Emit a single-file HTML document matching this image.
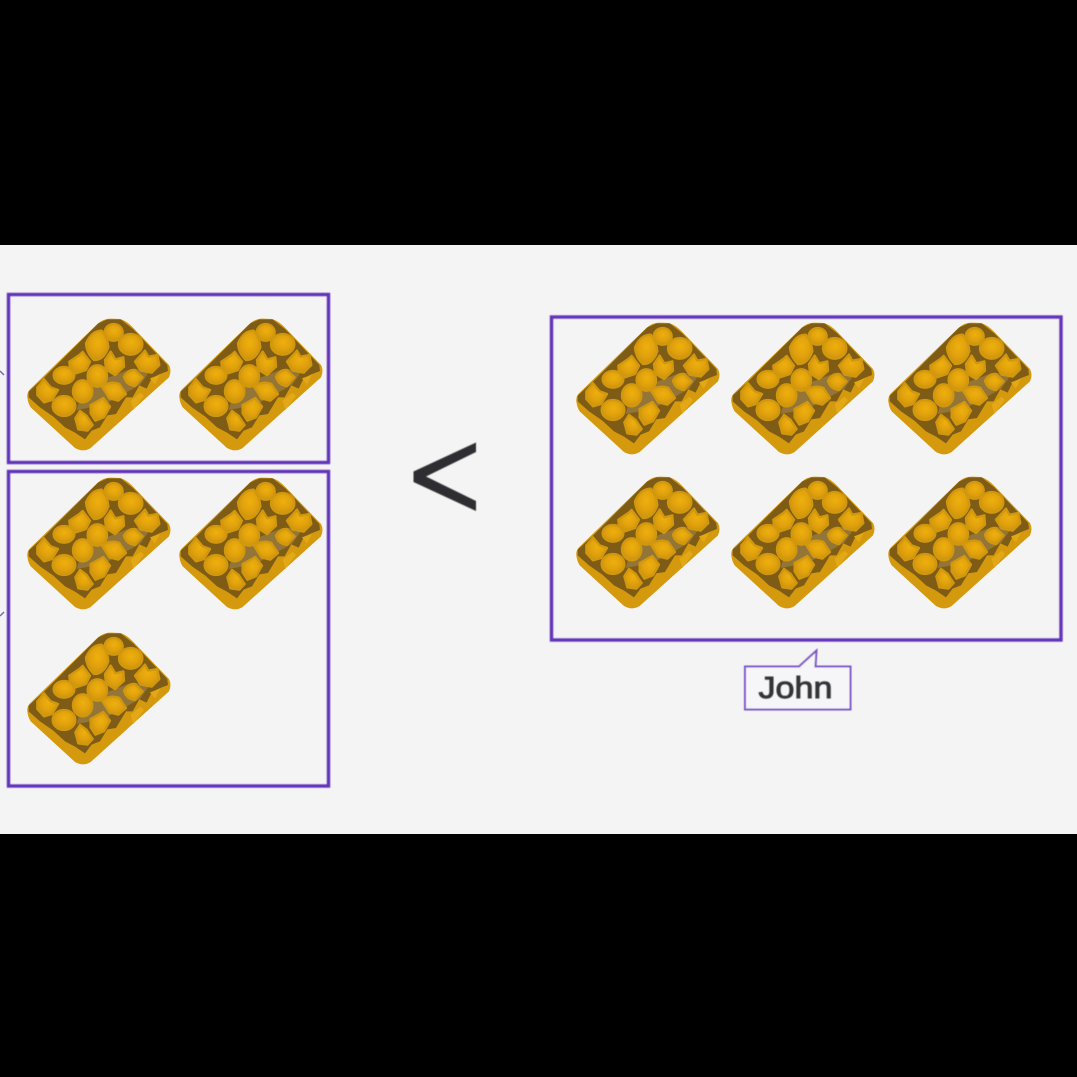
<!DOCTYPE html>
<html lang="en">
<head>
<meta charset="utf-8">
<title>Comparison of waffle groups</title>
<style>
html,body{margin:0;padding:0;background:#000;}
svg{display:block;}
</style>
</head>
<body>
<svg xmlns="http://www.w3.org/2000/svg" width="1077" height="1077" viewBox="0 0 1077 1077">
<defs>
<radialGradient id="lump" cx="52%" cy="40%" r="62%">
<stop offset="0" stop-color="#eeb010"/>
<stop offset="0.6" stop-color="#e0a00e"/>
<stop offset="1" stop-color="#c99210"/>
</radialGradient>
<filter id="soft" x="-5%" y="-5%" width="110%" height="110%"><feGaussianBlur stdDeviation="1.1"/></filter>
<filter id="softer" x="-5%" y="-5%" width="110%" height="110%"><feGaussianBlur stdDeviation="0.5"/></filter>
<g id="waffle" transform="scale(0.3333)" filter="url(#soft)">
<path d="M22 262 Q20 246 34 234 L232 42 Q250 26 272 26 L300 27 Q320 32 342 56 L447 165 Q456 182 447 202 L212 414 Q190 428 165 414 L32 292 Q24 280 22 262 Z" fill="#d5990f"/>
<path d="M26 245 L70 205 L235 40 L262 28 L302 28 L340 58 L442 165 L444 183 L418 193 L395 205 L380 236 L358 226 L338 262 L318 262 L288 312 L262 316 L240 352 L215 362 L195 388 L165 368 L135 352 L100 320 L60 292 L26 262 Z" fill="#7f5c16"/>
<path d="M190 232 L330 178 L395 175 L360 225 L250 285 L170 300 Z" fill="#a08650" opacity=".6"/>
<path d="M390 205 L420 194 L405 224 Z" fill="#e3a812"/>
<path d="M332 272 L362 248 L372 258 L340 300 Z" fill="#e3a812"/>
<g fill="url(#lump)" stroke="#d2980f" stroke-width="7" stroke-linejoin="round">
<ellipse cx="281" cy="67" rx="27" ry="25"/>
<ellipse cx="332" cy="103" rx="35" ry="31"/>
<path d="M198 100 Q215 62 245 62 Q264 85 265 112 Q252 150 222 150 Q200 130 198 100Z"/>
<path d="M345 155 L375 122 L385 140 L412 135 L418 165 L395 188 L362 182Z"/>
<path d="M255 150 L272 125 L286 148 L310 142 L312 170 L285 195 L258 178Z"/>
<path d="M148 155 L178 135 L188 126 L210 155 L198 180 L168 190 L150 175Z"/>
<path d="M312 200 Q325 178 345 180 L368 202 L345 228 Q318 225 312 200Z"/>
<ellipse cx="232" cy="198" rx="29" ry="32"/>
<ellipse cx="132" cy="196" rx="31" ry="25"/>
<path d="M245 228 Q275 212 298 222 L318 252 L295 272 L268 265Z"/>
<ellipse cx="188" cy="244" rx="29" ry="33"/>
<path d="M52 232 L72 208 L92 232 L114 240 L96 270 L72 277 L52 255Z"/>
<ellipse cx="132" cy="288" rx="34" ry="30"/>
<path d="M212 285 L250 264 L270 290 L252 322 L226 332 L212 310Z"/>
<path d="M166 325 L180 303 L200 318 L218 345 L202 362 L175 358Z"/>
</g>
</g>
</defs>

<rect x="0" y="0" width="1077" height="245" fill="#000"/>
<rect x="0" y="245" width="1077" height="589" fill="#f4f4f4"/>
<rect x="0" y="834" width="1077" height="243" fill="#000"/>

<path d="M0 371 L4 375" stroke="#7a68a8" stroke-width="1.5" fill="none"/>
<path d="M0 616 L4 612" stroke="#7a68a8" stroke-width="1.5" fill="none"/>

<g fill="none" stroke="#6234b8" stroke-width="3.4" filter="url(#softer)">
<rect x="8.500" y="294.500" width="320" height="168"/>
<rect x="8.500" y="471.500" width="320" height="314.500"/>
<rect x="551.500" y="317" width="509.500" height="323"/>
</g>

<use href="#waffle" x="20" y="310"/>
<use href="#waffle" x="172" y="310"/>
<use href="#waffle" x="20" y="469"/>
<use href="#waffle" x="172" y="469"/>
<use href="#waffle" x="20" y="624"/>

<use href="#waffle" x="569" y="314"/>
<use href="#waffle" x="724" y="314"/>
<use href="#waffle" x="881" y="314"/>
<use href="#waffle" x="569" y="468"/>
<use href="#waffle" x="724" y="468"/>
<use href="#waffle" x="881" y="468"/>

<path d="M476 442.500 L476 452 L426 476.500 L476 501 L476 511 L413.500 482 L413.500 471.500 Z" fill="#2d2f33" filter="url(#softer)"/>

<path d="M745 666.500 L799 666.500 L816.500 650.500 L815.500 666.500 L850.500 666.500 L850.500 709.500 L745 709.500 Z" fill="#f6f5f7" stroke="#7a55c7" stroke-width="2" filter="url(#softer)"/>
<text x="758.500" y="698" font-family="'Liberation Sans', sans-serif" font-size="31" font-weight="400" fill="#333438" stroke="#333438" stroke-width="0.9" textLength="74" lengthAdjust="spacingAndGlyphs" filter="url(#softer)">John</text>
</svg>
</body>
</html>
